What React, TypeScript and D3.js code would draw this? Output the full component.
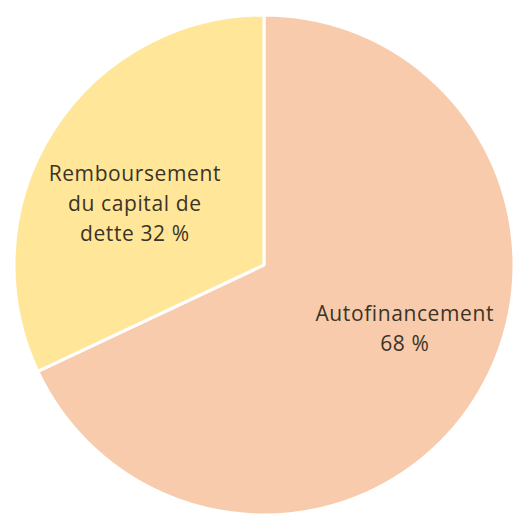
import { useRef, useEffect } from "react";
import * as d3 from "d3";

const labels = ["Autofinancement", "Remboursement du capital de dette"];
const values = [68, 32];
const colors = ["#F8CBAD", "#FFE699"];
const labelLines = [
  ["Autofinancement", "68 %"],
  ["Remboursement", "du capital de", "dette 32 %"],
];

const WIDTH = 516;
const HEIGHT = 515;

export default function App() {
  const svgRef = useRef<SVGSVGElement>(null);

  useEffect(() => {
    if (!svgRef.current) return;
    const svg = d3.select(svgRef.current);
    svg.selectAll("*").remove();

    const cx = 264;
    const cy = 265;
    const radius = 250;

    const g = svg.append("g").attr("transform", `translate(${cx}, ${cy})`);

    const data = labels.map((name, i) => ({ name, value: values[i], i }));
    const pie = d3
      .pie<{ name: string; value: number; i: number }>()
      .sort(null)
      .value((d) => d.value);

    const arcs = pie(data);

    const arc = d3
      .arc<d3.PieArcDatum<{ name: string; value: number; i: number }>>()
      .innerRadius(0)
      .outerRadius(radius);

    g.selectAll("path")
      .data(arcs)
      .join("path")
      .attr("d", (d) => arc(d) ?? "")
      .attr("fill", (d) => colors[d.data.i])
      .attr("stroke", "#fff")
      .attr("stroke-width", 3)
      .attr("stroke-linejoin", "round");

    // label radius and angle nudge per slice (fraction of radius, radians)
    const labelPos = [
      { r: 0.63, da: -0.1 },
      { r: 0.56, da: -0.17 },
    ];
    const lineH = 30;

    arcs.forEach((a) => {
      const i = a.data.i;
      const mid = (a.startAngle + a.endAngle) / 2 + labelPos[i].da;
      const rr = radius * labelPos[i].r;
      const x = Math.sin(mid) * rr;
      const y = -Math.cos(mid) * rr;
      const lines = labelLines[i];
      const t = g
        .append("text")
        .attr("text-anchor", "middle")
        .attr("font-family", "'Open Sans', 'Noto Sans', sans-serif")
        .attr("font-size", 21)
        .attr("letter-spacing", 0.6)
        .attr("fill", "#3b3426");
      lines.forEach((ln, k) => {
        t.append("tspan")
          .attr("x", x)
          .attr("y", y + (k - (lines.length - 1) / 2) * lineH)
          .text(ln);
      });
    });
  }, []);

  return (
    <svg
      ref={svgRef}
      width={WIDTH}
      height={HEIGHT}
      style={{ position: "absolute", left: 0, top: 0, background: "#fff" }}
    />
  );
}
